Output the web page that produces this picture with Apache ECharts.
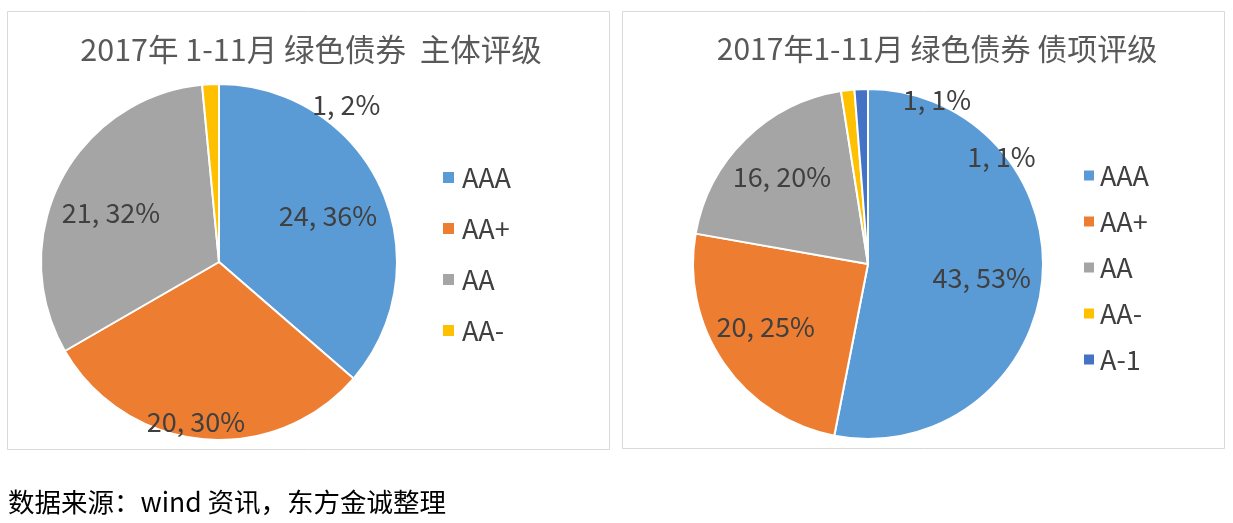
<!DOCTYPE html>
<html>
<head>
<meta charset="utf-8">
<script src="https://cdn.jsdelivr.net/npm/echarts@6/dist/echarts.min.js"></script>
<style>
  html, body { margin: 0; padding: 0; background: #ffffff; }
  #chart { width: 1233px; height: 523px; }
</style>
</head>
<body>
<div id="chart"></div>
<script>
// ---- data ----
const leftTitle = '2017年 1-11月 绿色债券  主体评级';
const rightTitle = '2017年1-11月 绿色债券 债项评级';
const sourceText = '数据来源：wind 资讯，东方金诚整理';

const leftCategories = ['AAA', 'AA+', 'AA', 'AA-'];
const leftValues = [24, 20, 21, 1];

const rightCategories = ['AAA', 'AA+', 'AA', 'AA-', 'A-1'];
const rightValues = [43, 20, 16, 1, 1];

const colors = ['#5B9BD5', '#ED7D31', '#A5A5A5', '#FFC000', '#4472C4'];

// ---- label placement (polar: fraction of radius, angle clockwise from 12 o'clock) ----
const leftLabelPolar = [[0.665, 67.1], [0.908, 188.2], [0.666, 294.4], [1.135, 39.0]];
const rightLabelPolar = [[0.654, 97.0], [0.687, 238.4], [0.70, 315.3], [1.02, 22.7], [0.98, 51.1]];

const leftCenter = [219, 262], leftRadius = 178;
const rightCenter = [868, 264], rightRadius = 175;

function polarLayout(center, radius, polar) {
  return function (params) {
    const p = polar[params.dataIndex];
    const a = p[1] * Math.PI / 180;
    return {
      x: center[0] + p[0] * radius * Math.sin(a),
      y: center[1] - p[0] * radius * Math.cos(a),
      align: 'center',
      verticalAlign: 'middle'
    };
  };
}

function makeData(cats, vals) {
  return cats.map((c, i) => ({ name: c, value: vals[i], itemStyle: { color: colors[i] } }));
}

const fontFamily = '"Noto Sans CJK SC", "Noto Sans", sans-serif';
const textColor = '#404040';

const chart = echarts.init(document.getElementById('chart'), null, { renderer: 'canvas' });

const option = {
  backgroundColor: '#ffffff',
  animation: false,
  graphic: [
    { type: 'rect', shape: { x: 7.5, y: 11.5, width: 602, height: 438 }, style: { fill: 'none', stroke: '#D9D9D9', lineWidth: 1 }, z: -1 },
    { type: 'rect', shape: { x: 622.5, y: 11.5, width: 602, height: 437 }, style: { fill: 'none', stroke: '#D9D9D9', lineWidth: 1 }, z: -1 }
  ],
  title: [
    { text: leftTitle, left: 306, top: 44, textAlign: 'center', textVerticalAlign: 'middle',
      textStyle: { fontFamily: fontFamily, fontSize: 30.5, fontWeight: 'normal', color: '#595959' } },
    { text: rightTitle, left: 932, top: 44, textAlign: 'center', textVerticalAlign: 'middle',
      textStyle: { fontFamily: fontFamily, fontSize: 30, fontWeight: 'normal', color: '#595959' } },
    { text: sourceText, left: 3, top: 484,
      textStyle: { fontFamily: fontFamily, fontSize: 26.5, fontWeight: 'normal', color: '#000000' } }
  ],
  legend: [
    { data: leftCategories, orient: 'vertical', left: 436, top: 159, icon: 'rect',
      itemWidth: 13, itemHeight: 13, itemGap: 24,
      textStyle: { fontFamily: fontFamily, fontSize: 27, color: textColor, lineHeight: 26, padding: [0, 0, 0, 2] } },
    { data: rightCategories, orient: 'vertical', left: 1077, top: 157, icon: 'rect',
      itemWidth: 12, itemHeight: 12, itemGap: 19,
      textStyle: { fontFamily: fontFamily, fontSize: 27, color: textColor, lineHeight: 26, padding: [0, 0, 0, 0] } }
  ],
  series: [
    {
      type: 'pie', name: 'left', center: leftCenter, radius: leftRadius,
      startAngle: 90, clockwise: true, percentPrecision: 0,
      avoidLabelOverlap: false,
      itemStyle: { borderColor: '#ffffff', borderWidth: 2 },
      label: { show: true, position: 'inside', formatter: '{c}, {d}%',
        fontFamily: fontFamily, fontSize: 27, color: textColor },
      labelLine: { show: false },
      labelLayout: polarLayout(leftCenter, leftRadius, leftLabelPolar),
      emphasis: { disabled: true },
      data: makeData(leftCategories, leftValues)
    },
    {
      type: 'pie', name: 'right', center: rightCenter, radius: rightRadius,
      startAngle: 90, clockwise: true, percentPrecision: 0,
      avoidLabelOverlap: false,
      itemStyle: { borderColor: '#ffffff', borderWidth: 2 },
      label: { show: true, position: 'inside', formatter: '{c}, {d}%',
        fontFamily: fontFamily, fontSize: 27, color: textColor },
      labelLine: { show: false },
      labelLayout: polarLayout(rightCenter, rightRadius, rightLabelPolar),
      emphasis: { disabled: true },
      data: makeData(rightCategories, rightValues)
    }
  ]
};

chart.setOption(option);
</script>
</body>
</html>
